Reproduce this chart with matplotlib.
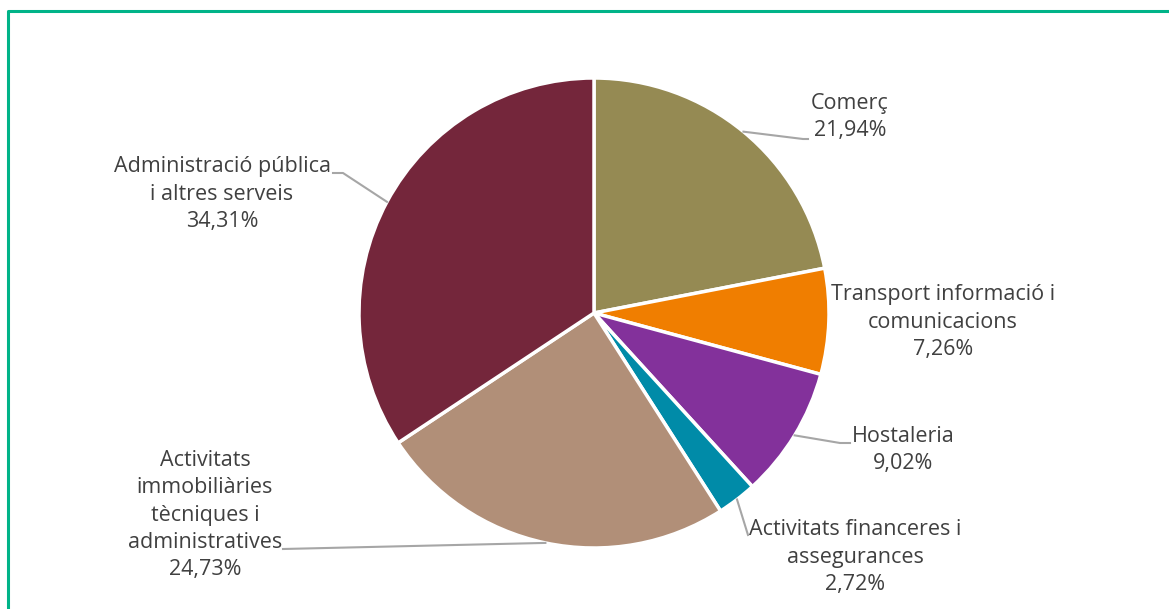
import numpy as np
import matplotlib.pyplot as plt

# share of each sector (%)
sectors = ['Comerç', 'Transport informació i\ncomunicacions', 'Hostaleria',
           'Activitats financeres i\nassegurances',
           'Activitats\nimmobiliàries\ntècniques i\nadministratives',
           'Administració pública\ni altres serveis']
shares = [21.94, 7.26, 9.02, 2.72, 24.73, 34.31]
colors = ['#958a53', '#f07e00', '#83319b', '#008ba8', '#b18f78', '#74263b']

W, H = 1169, 609
cx, cy, R = 594, H - 313, 235

plt.rcParams['font.family'] = ['Open Sans', 'DejaVu Sans']

fig = plt.figure(figsize=(W / 100, H / 100), dpi=100)
ax = fig.add_axes([0, 0, 1, 1])

wedges, _ = ax.pie(shares, colors=colors, startangle=90, counterclock=False,
                   center=(cx, cy), radius=R,
                   wedgeprops=dict(edgecolor='white', linewidth=2.5))
ax.set_xlim(0, W)
ax.set_ylim(0, H)
ax.set_aspect('equal')
ax.axis('off')

# frame line on top/left
ax.plot([8, 8, W + 5], [-5, H - 11, H - 11], color='#00b388', lw=2.2,
        clip_on=False, solid_capstyle='butt')

# label text centre (px from top-left) and leader line elbow/end points
label_pos = [(850, 117), (943, 322), (903, 450), (855, 557), (205, 515), (222, 194)]
leaders = [
    [(803, 139), (808, 139)],
    None,
    [(840, 443), (850, 443)],
    [(748, 535)],
    [(283, 549)],
    [(343, 173), (333, 173)],
]

for w, val, name, (lx, ly), pts in zip(wedges, shares, sectors, label_pos, leaders):
    txt = name + '\n' + f'{val:.2f}'.replace('.', ',') + '%'
    ax.text(lx, H - ly, txt, ha='center', va='center', fontsize=15.5,
            color='#404040', linespacing=1.4)
    if pts is None:
        continue
    ang = np.deg2rad((w.theta1 + w.theta2) / 2)
    x0 = cx + R * np.cos(ang)
    y0 = cy + R * np.sin(ang)
    xs = [x0] + [p[0] for p in pts]
    ys = [y0] + [H - p[1] for p in pts]
    ax.plot(xs, ys, color='#a6a6a6', lw=1.5)

fig.savefig('out.png', dpi=100)
